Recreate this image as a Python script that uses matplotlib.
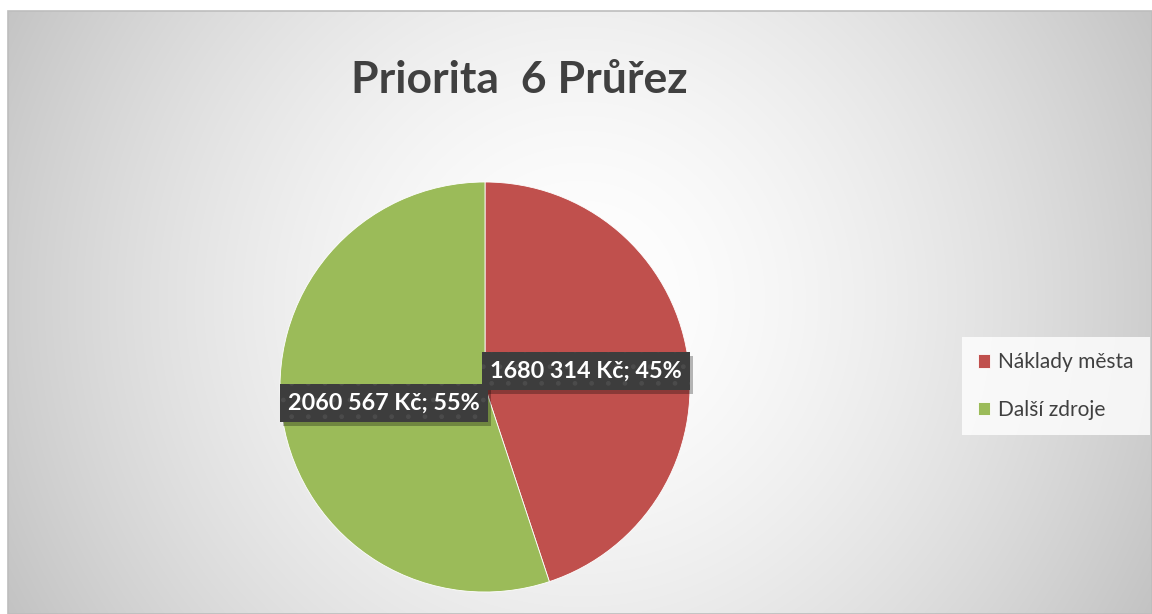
import numpy as np
import matplotlib
matplotlib.use("Agg")
import matplotlib.pyplot as plt
from matplotlib.patches import Rectangle
from matplotlib.transforms import IdentityTransform

plt.rcParams['font.family'] = ['Lato', 'DejaVu Sans']
plt.rcParams['hatch.linewidth'] = 1.0

title = "Priorita  6 Průřez"
categories = ["Náklady města", "Další zdroje"]
values = [1680314, 2060567]
colors = ["#C0504D", "#9BBB59"]

W, H = 1152, 614
fig = plt.figure(figsize=(W / 100, H / 100), dpi=100)

# background with radial gradient (chart area)
bg = fig.add_axes([0, 0, 1, 1])
bg.set_xlim(0, W)
bg.set_ylim(H, 0)
bg.axis('off')
x0, y0, x1, y1 = 8, 11, W, H
yy, xx = np.mgrid[y0:y1, x0:x1]
cx, cy = 580, 300
d = np.sqrt((xx - cx) ** 2 + (yy - cy) ** 2) / 650.0
g = np.clip(1.0 - 0.235 * d ** 1.6, 0, 1)
img = np.dstack([g, g, g])
bg.imshow(img, extent=(x0, x1, y1, y0), interpolation='bilinear', zorder=0)
bg.add_patch(Rectangle((x0, y0), x1 - x0, y1 - y0, fill=False, ec='#bdbdbd', lw=1.2, zorder=1))

# pie
pcx, pcy, r = 485, 387, 205
ax = fig.add_axes([(pcx - r) / W, (H - pcy - r) / H, 2 * r / W, 2 * r / H])
total = sum(values)
labels = [f"{v // 1000} {v % 1000:03d} Kč; {round(100 * v / total)}%" for v in values]
wedges, texts = ax.pie(values, colors=colors, startangle=90, counterclock=False,
                       labels=labels, labeldistance=0.5,
                       wedgeprops=dict(edgecolor='white', linewidth=0.6))
ax.set_xlim(-1, 1)
ax.set_ylim(-1, 1)
ax.set_aspect('equal')
for t in texts:
    t.set_ha('center')
    t.set_va('center')
    t.set_color('white')
    t.set_fontsize(16.8)
    t.set_fontweight('bold')
    t.set_bbox(dict(boxstyle='square,pad=0.36', fc='#3d3d3d', ec='#4b4b4b', lw=0, hatch='.'))
    t.set_zorder(6)

fig.canvas.draw()
renderer = fig.canvas.get_renderer()
for t in texts:
    bb = t.get_bbox_patch().get_window_extent(renderer)
    # drop shadow in pixel coordinates, below the label
    sh = Rectangle((bb.x0 + 3, bb.y0 - 4), bb.width, bb.height, transform=IdentityTransform(),
                   fc=(0, 0, 0, 0.28), ec='none', zorder=5, clip_on=False)
    ax.add_patch(sh)

fig.text(519 / W, 1 - 80 / H, title, ha='center', va='center', fontsize=32,
         fontweight='bold', color='#404040')

leg = fig.legend(wedges, categories, loc='center left', bbox_to_anchor=(962 / W, 1 - 386 / H),
                 fontsize=15, frameon=True, fancybox=False, handlelength=0.6, handleheight=0.6,
                 handletextpad=0.4, labelspacing=1.3, borderpad=0.75, borderaxespad=0,
                 labelcolor='#404040')
leg.get_frame().set_facecolor((1, 1, 1, 0.3))
leg.get_frame().set_edgecolor('none')

fig.savefig("out.png", dpi=100)
